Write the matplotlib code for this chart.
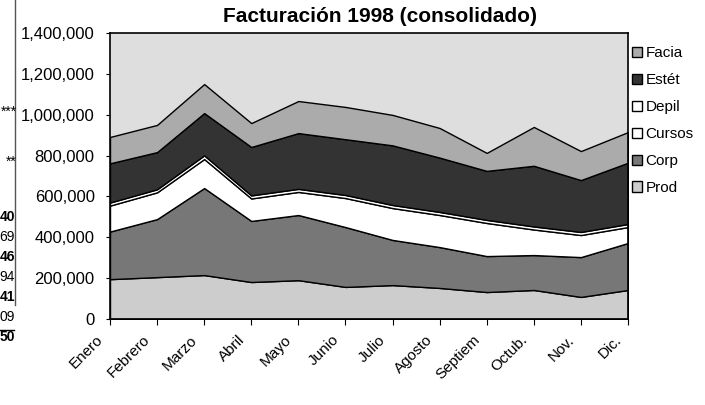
import numpy as np
import matplotlib
matplotlib.use('Agg')
import matplotlib.pyplot as plt
import matplotlib.transforms as mtransforms
from matplotlib.ticker import FuncFormatter

plt.rcParams['font.family'] = ['Liberation Sans', 'DejaVu Sans']

# Datos
meses = ['Enero', 'Febrero', 'Marzo', 'Abril', 'Mayo', 'Junio', 'Julio',
         'Agosto', 'Septiem', 'Octub.', 'Nov.', 'Dic.']
prod = [195000, 205000, 215000, 181000, 190000, 157000, 166000, 152000, 132000, 142000, 108000, 142000]
corp = [233000, 284000, 426000, 299000, 319000, 293000, 221000, 200000, 176000, 171000, 195000, 230000]
cursos = [127000, 131000, 142000, 110000, 113000, 142000, 156000, 157000, 162000, 125000, 108000, 78000]
depil = [15000, 15000, 18000, 15000, 15000, 15000, 15000, 15000, 15000, 15000, 15000, 15000]
estet = [192000, 182000, 207000, 237000, 273000, 273000, 292000, 266000, 240000, 297000, 254000, 300000]
facia = [129000, 133000, 142000, 117000, 157000, 158000, 149000, 145000, 88000, 190000, 142000, 150000]

series = ['Prod', 'Corp', 'Cursos', 'Depil', 'Estét', 'Facia']
colores = ['#cdcdcd', '#777777', '#ffffff', '#ffffff', '#333333', '#ababab']

fig = plt.figure(figsize=(7.05, 4.05), dpi=100)
ax = fig.add_axes([110/705, 1-319/405, 518/705, 286/405])
ax.set_facecolor('#dedede')

x = np.arange(len(meses))
polys = ax.stackplot(x, prod, corp, cursos, depil, estet, facia,
                     colors=colores, labels=series, edgecolor='black', linewidth=1.0)

ax.set_xlim(0, len(meses) - 1)
ax.set_ylim(0, 1400000)
ax.set_yticks(np.arange(0, 1400001, 200000))
ax.yaxis.set_major_formatter(FuncFormatter(lambda v, p: '{:,.0f}'.format(v)))
ax.tick_params(axis='y', labelsize=12, length=3, pad=8)
ax.set_xticks(x)
ax.set_xticklabels(meses, rotation=45, ha='right', rotation_mode='anchor', fontsize=11)
ax.tick_params(axis='x', length=4, pad=6)
desp = mtransforms.ScaledTranslation(-14/100, 0, fig.dpi_scale_trans)
for lab in ax.get_xticklabels():
    lab.set_transform(lab.get_transform() + desp)

for s in ax.spines.values():
    s.set_linewidth(1.2)

h, l = ax.get_legend_handles_labels()
ax.legend(h[::-1], l[::-1], loc='upper left', bbox_to_anchor=(0.995, 0.975),
          frameon=False, fontsize=11, handlelength=0.7, handleheight=0.7,
          handletextpad=0.2, labelspacing=0.85, borderaxespad=0.0)

fig.text(380/705, 1-16/405, 'Facturación 1998 (consolidado)', ha='center', va='center',
         fontsize=15, fontweight='bold')

# restos de la tabla a la izquierda
fig.add_artist(plt.Line2D([15/705, 15/705], [1.0, 1-305/405], color='#555555', lw=1.0))
fig.text(17/705, 1-112/405, '***', ha='right', va='center', fontsize=10)
fig.text(17/705, 1-162/405, '**', ha='right', va='center', fontsize=10)
restos = ['40', '69', '46', '94', '41', '09', '50']
negrita = [True, False, True, False, True, False, True]
for i, t in enumerate(restos):
    fig.text(15/705, 1-(217 + 20*i)/405, t, ha='right', va='center', fontsize=10,
             fontweight='bold' if negrita[i] else 'normal')
fig.add_artist(plt.Line2D([0, 14/705], [1-330/405, 1-330/405], color='black', lw=1.0))

fig.savefig('out.png', dpi=100)
